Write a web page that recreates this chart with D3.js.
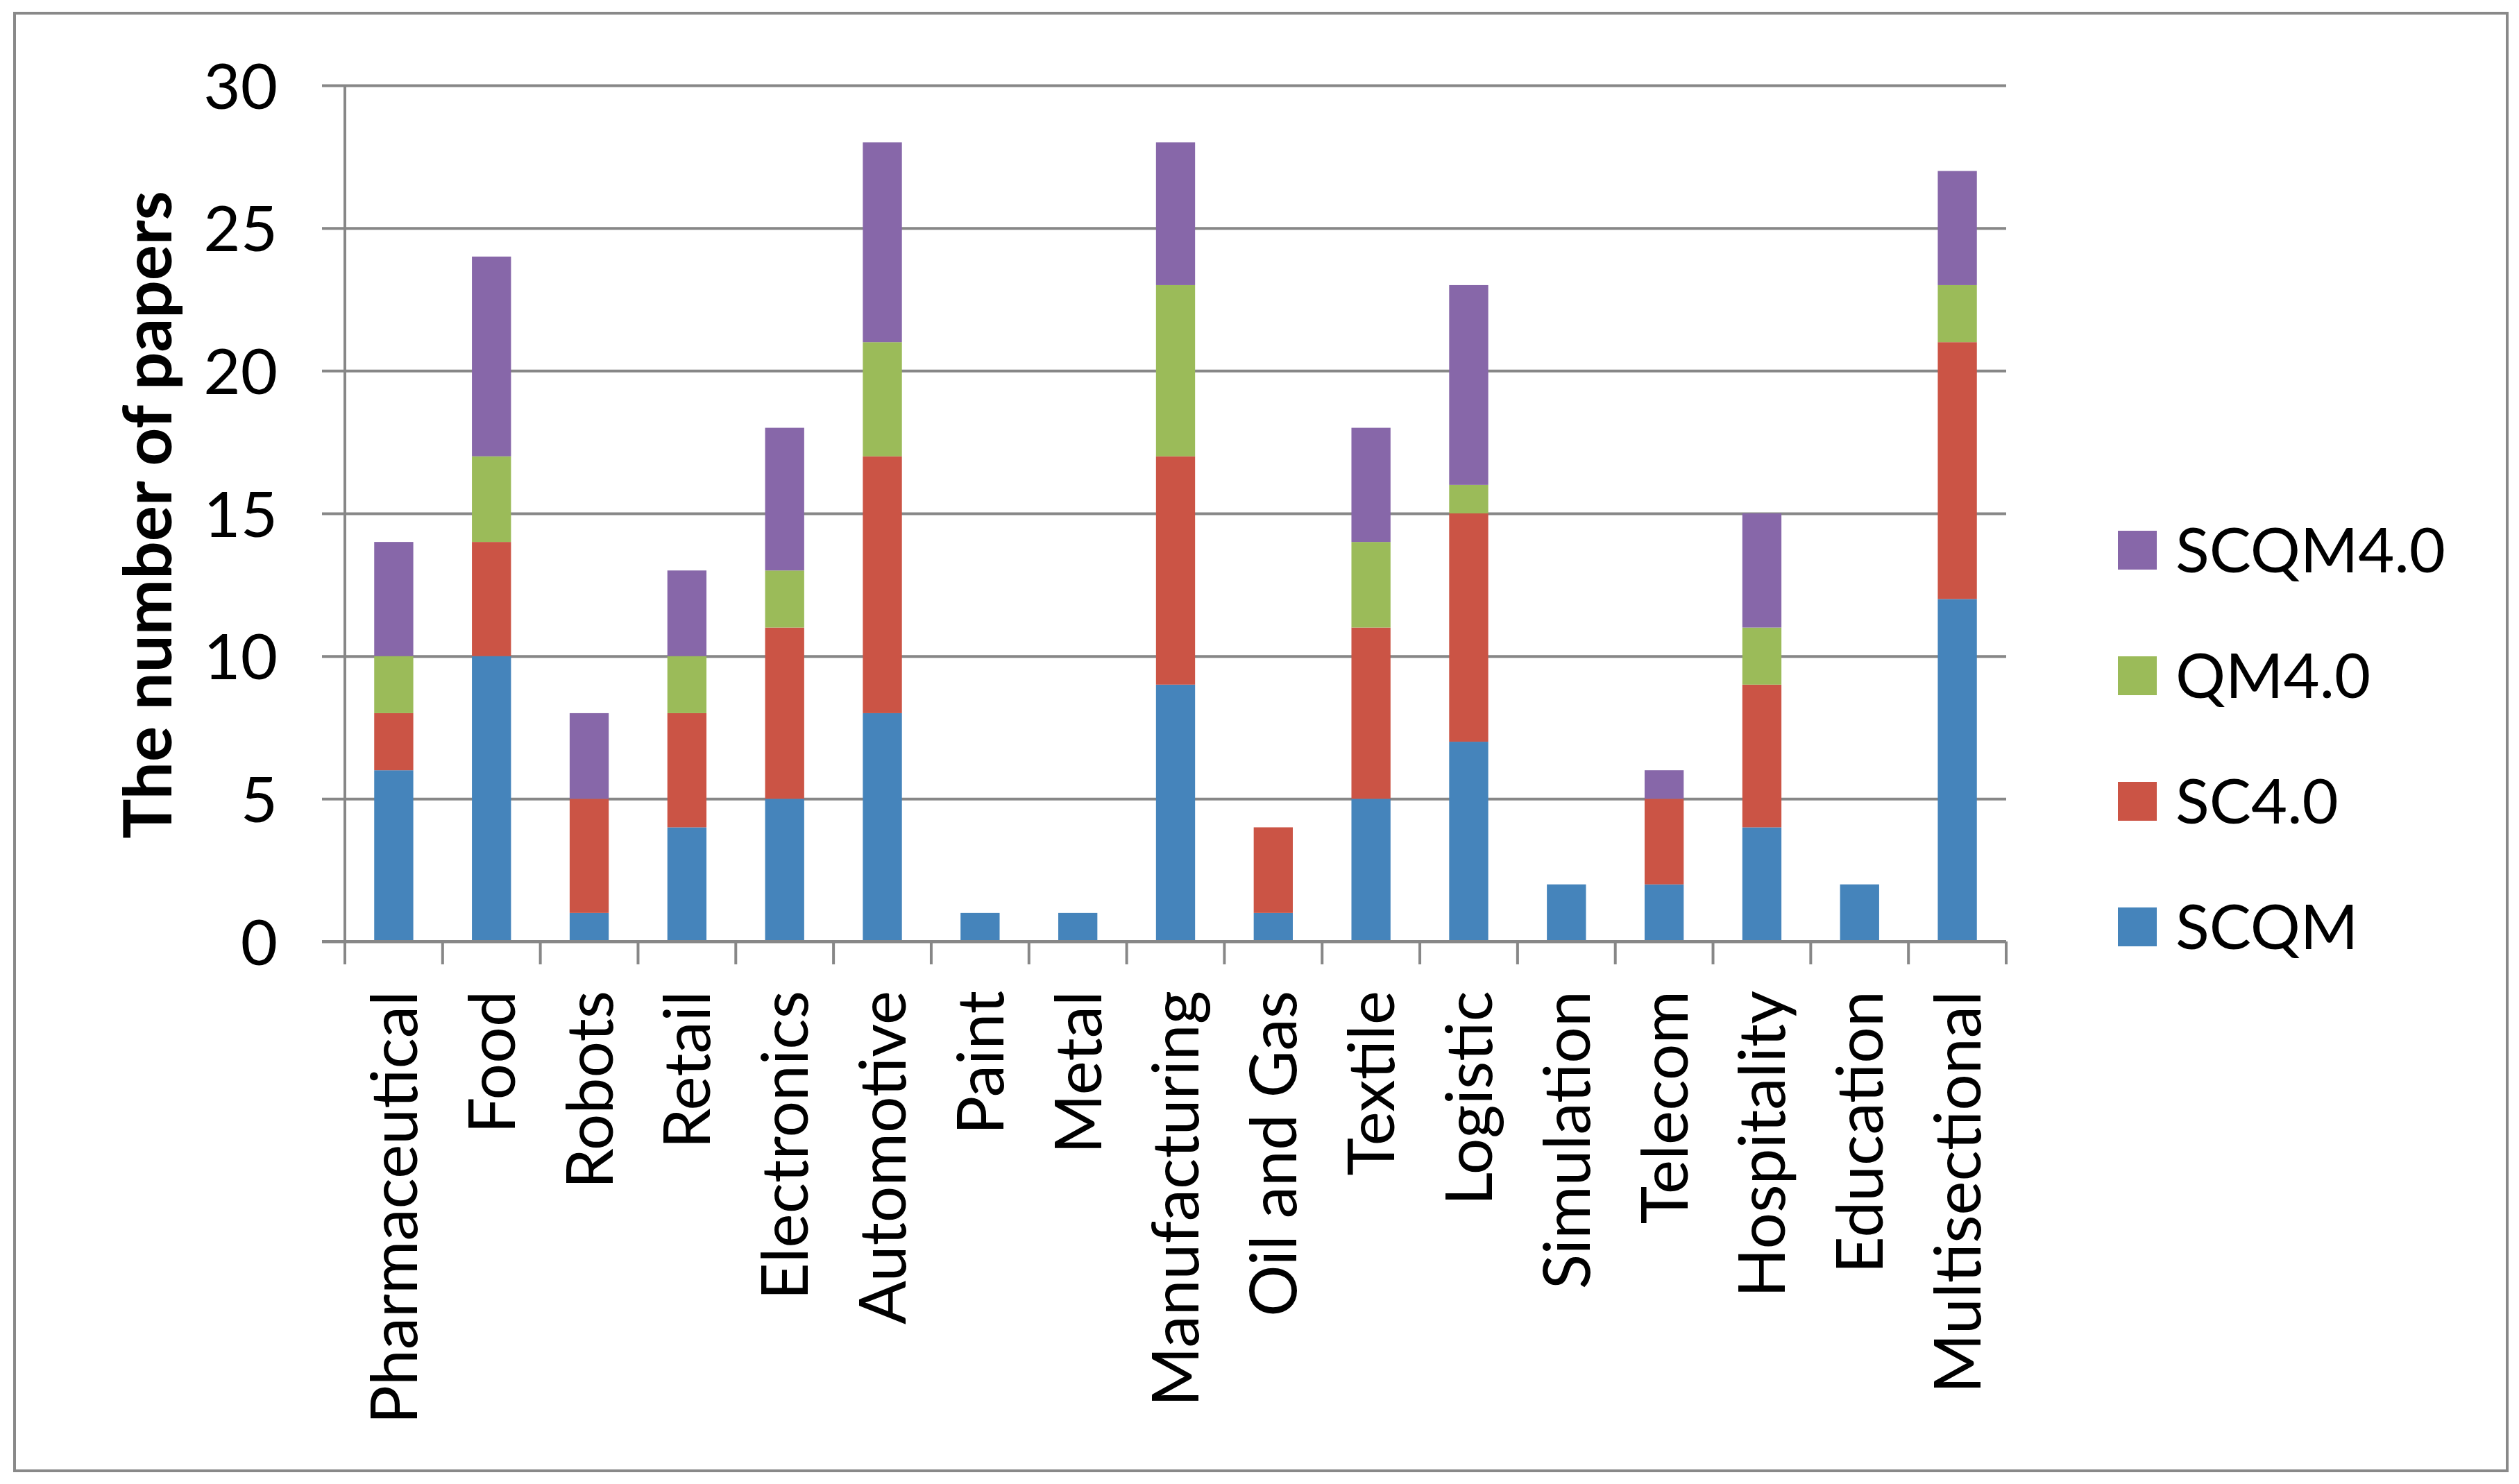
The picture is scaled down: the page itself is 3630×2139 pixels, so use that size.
<!DOCTYPE html>
<html><head><meta charset="utf-8">
<script src="https://cdn.jsdelivr.net/npm/d3@7"></script>
<style>body{margin:0;background:#fff} svg{display:block}</style>
</head><body>
<svg id="c" width="3630" height="2139"></svg>
<script>
const categories = ["Pharmaceutical","Food","Robots","Retail","Electronics","Automotive","Paint","Metal","Manufacturing","Oil and Gas","Textile","Logistic","Simulation","Telecom","Hospitality","Education","Multisectional"];
const seriesNames = ["SCQM","SC4.0","QM4.0","SCQM4.0"];
const scqm   = [6,10,1,4,5,8,1,1,9,1,5,7,2,2,4,2,12];
const sc40   = [2,4,4,4,6,9,0,0,8,3,6,8,0,3,5,0,9];
const qm40   = [2,3,0,2,2,4,0,0,6,0,3,1,0,0,2,0,2];
const scqm40 = [4,7,3,3,5,7,0,0,5,0,4,7,0,1,4,0,4];
const yTicks = [0,5,10,15,20,25,30];
const colors = ["#4584bb","#cb5445","#9bbb59","#8767a9"];
const yTitle = "The number of papers";

(function(){
const FONT = "Lato, 'Open Sans', sans-serif";
const svg = d3.select("#c");

// frame
svg.append("rect").attr("x",21).attr("y",19).attr("width",3613-21).attr("height",2120-19)
  .attr("fill","#fff").attr("stroke","#898989").attr("stroke-width",4);

const pL = 497, pR = 2891, pT = 123, pB = 1357;
const x = d3.scaleBand().domain(categories).range([pL,pR]).paddingInner(0.6).paddingOuter(0.3);
const y = d3.scaleLinear().domain([0,30]).range([pB,pT]);

// gridlines + y tick labels
const yAxis = d3.axisLeft(y).tickValues(yTicks).tickSize(-(pR-464)).tickPadding(64).tickFormat(d3.format("d"));
const gy = svg.append("g").attr("transform","translate(464,0)").call(yAxis);
gy.select(".domain").remove();
gy.selectAll(".tick line").attr("stroke","#878787").attr("stroke-width",4);
gy.selectAll(".tick text").attr("font-family",FONT).attr("font-size",92).attr("fill","#000").attr("dy","0.36em");

// stacked bars
const rows = categories.map((c,i)=>({cat:c, SCQM:scqm[i], "SC4.0":sc40[i], "QM4.0":qm40[i], "SCQM4.0":scqm40[i]}));
const stack = d3.stack().keys(seriesNames)(rows);
const gBars = svg.append("g");
stack.forEach((layer,k)=>{
  gBars.selectAll(null).data(layer.filter(d=>d[1]-d[0]>0)).enter().append("rect")
    .attr("x",d=>x(d.data.cat)).attr("width",x.bandwidth())
    .attr("y",d=>y(d[1])).attr("height",d=>y(d[0])-y(d[1]))
    .attr("fill",colors[k]);
});

// y axis line
svg.append("line").attr("x1",pL).attr("x2",pL).attr("y1",pT).attr("y2",1390)
  .attr("stroke","#878787").attr("stroke-width",4);
// x axis line
svg.append("line").attr("x1",464).attr("x2",pR).attr("y1",pB).attr("y2",pB)
  .attr("stroke","#878787").attr("stroke-width",4);
// x ticks at band boundaries
const step = x.step();
const bounds = categories.map(c=>x(c) - step*x.paddingInner()/2).concat([pR]);
svg.append("g").selectAll("line").data(bounds).enter().append("line")
  .attr("x1",d=>d).attr("x2",d=>d).attr("y1",pB).attr("y2",1390)
  .attr("stroke","#878787").attr("stroke-width",4);

// x labels
svg.append("g").selectAll("text").data(categories).enter().append("text")
  .attr("transform",d=>`translate(${x(d)+x.bandwidth()/2},1428) rotate(-90)`)
  .attr("text-anchor","end").attr("dy","0.36em")
  .attr("font-family",FONT).attr("font-size",93).attr("fill","#000")
  .text(d=>d);

// y title
svg.append("text").attr("transform","translate(247,742) rotate(-90)")
  .attr("text-anchor","middle").attr("font-family",FONT).attr("font-weight","bold")
  .attr("font-size",96).attr("fill","#000").text(yTitle);

// legend
const legendOrder = seriesNames.map((s,i)=>({s,i})).reverse();
const lg = svg.append("g");
legendOrder.forEach((d,j)=>{
  const cy = 793 + j*181;
  lg.append("rect").attr("x",3052).attr("y",cy-28).attr("width",56).attr("height",56).attr("fill",colors[d.i]);
  lg.append("text").attr("x",3135).attr("y",cy).attr("dy","0.36em")
    .attr("font-family",FONT).attr("font-size",90).attr("fill","#000").text(d.s);
});
})();
</script>
</body></html>
